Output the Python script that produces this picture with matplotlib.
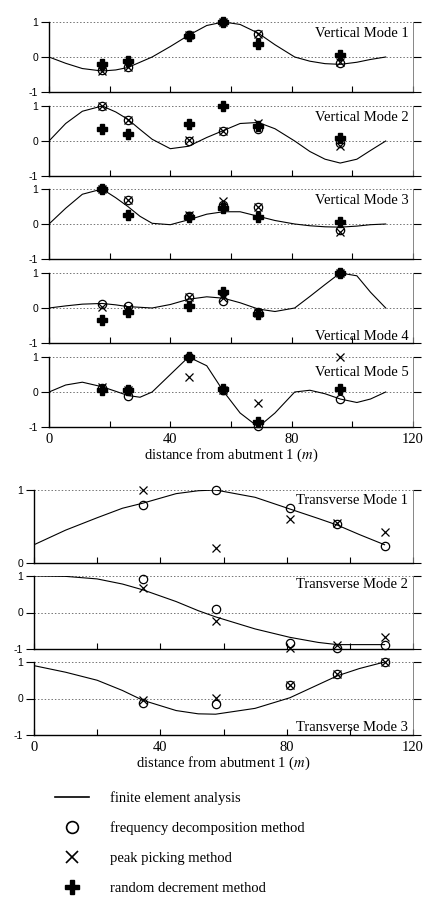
import matplotlib.pyplot as plt
from matplotlib.lines import Line2D

plt.rcParams['mathtext.fontset'] = 'stix'

# finite element node positions along the bridge (m)
fe_x_v = [0, 5.5, 11, 17.5, 22, 26, 30, 34, 40, 46, 52, 57.5, 63, 69, 74.5, 81, 86, 91, 96, 101.5, 106, 111]
fe_v1 = [0, -0.18, -0.33, -0.4, -0.37, -0.3, -0.15, 0.0, 0.3, 0.62, 0.9, 1.0, 0.93, 0.68, 0.35, 0.0, -0.12, -0.19, -0.21, -0.15, -0.07, 0.0]
fe_v2 = [0, 0.5, 0.85, 1.0, 0.83, 0.62, 0.33, 0.05, -0.22, -0.15, 0.1, 0.3, 0.5, 0.53, 0.35, 0.0, -0.3, -0.52, -0.63, -0.52, -0.27, 0.0]
fe_v3 = [0, 0.45, 0.85, 1.0, 0.75, 0.5, 0.22, 0.02, -0.02, 0.12, 0.28, 0.35, 0.35, 0.22, 0.1, 0.0, -0.05, -0.08, -0.09, -0.06, -0.02, 0.0]
fe_v4 = [0, 0.06, 0.11, 0.13, 0.09, 0.04, 0.02, 0.0, 0.1, 0.25, 0.32, 0.28, 0.15, -0.03, -0.1, 0.0, 0.33, 0.67, 1.0, 0.92, 0.45, 0.0]
fe_v5 = [0, 0.2, 0.28, 0.15, 0.02, -0.1, -0.15, 0.0, 0.5, 1.0, 0.75, 0.02, -0.6, -1.0, -0.6, 0.0, 0.05, -0.05, -0.2, -0.3, -0.2, 0.0]

# measured vertical mode shapes at the sensor locations
v_sensor_x = [17.5, 26, 46, 57.5, 69, 96]
v1_fdd = [-0.37, -0.28, 0.62, 1.0, 0.65, -0.17]
v1_pp = [-0.4, -0.28, 0.62, 1.0, 0.65, -0.13]
v1_rd = [-0.2, -0.1, 0.6, 1.0, 0.38, 0.05]
v2_fdd = [1.0, 0.6, 0.0, 0.3, 0.35, -0.05]
v2_pp = [1.0, 0.6, 0.02, 0.3, 0.52, -0.15]
v2_rd = [0.35, 0.2, 0.48, 1.0, 0.42, 0.08]
v3_fdd = [1.0, 0.68, 0.22, 0.55, 0.5, -0.18]
v3_pp = [1.0, 0.68, 0.25, 0.65, 0.5, -0.22]
v3_rd = [1.0, 0.25, 0.2, 0.45, 0.2, 0.05]
v4_fdd = [0.12, 0.05, 0.32, 0.2, -0.12, 1.0]
v4_pp = [0.02, 0.0, 0.32, 0.3, -0.15, 1.0]
v4_rd = [-0.33, -0.1, 0.05, 0.45, -0.18, 1.0]
v5_fdd = [0.12, -0.1, 1.0, 0.05, -0.97, -0.2]
v5_pp = [0.15, 0.05, 0.42, 0.05, -0.3, 1.0]
v5_rd = [0.05, 0.07, 1.0, 0.08, -0.85, 0.1]

# transverse modes
fe_x_t = [0, 10, 20, 28, 34.5, 45, 52, 57.5, 70, 81, 90, 96, 103, 111]
fe_t1 = [0.25, 0.45, 0.62, 0.75, 0.82, 0.95, 0.99, 1.0, 0.9, 0.74, 0.61, 0.52, 0.39, 0.25]
fe_t2 = [1.0, 0.99, 0.92, 0.78, 0.62, 0.3, 0.05, -0.12, -0.45, -0.68, -0.82, -0.88, -0.88, -0.88]
fe_t3 = [0.9, 0.72, 0.5, 0.22, -0.05, -0.33, -0.42, -0.43, -0.27, 0.02, 0.38, 0.62, 0.82, 1.0]

t_sensor_x = [34.5, 57.5, 81, 96, 111]
t1_fdd = [0.8, 1.0, 0.76, 0.53, 0.23]
t1_pp = [1.0, 0.2, 0.6, 0.55, 0.42]
t2_fdd = [0.92, 0.1, -0.83, -0.98, -0.88]
t2_pp = [0.68, -0.24, -0.97, -0.88, -0.68]
t3_fdd = [-0.12, -0.14, 0.38, 0.68, 1.0]
t3_pp = [-0.05, 0.02, 0.38, 0.68, 1.0]

SERIF = 'Liberation Serif'
SANS = 'Liberation Sans'
W, H = 426, 900


def px_axes(fig, left, top, right, bottom):
    return fig.add_axes([left / W, 1 - bottom / H, (right - left) / W, (bottom - top) / H])


def style_axes(ax, ymin, show_xlabels):
    ax.set_xlim(0, 120)
    ax.set_ylim(ymin, 1)
    yt = [-1, 0, 1] if ymin < 0 else [0, 1]
    ax.set_yticks(yt)
    ax.set_yticklabels([str(v) for v in yt], fontfamily=SANS, fontsize=7.5)
    ax.set_xticks([0, 40, 80, 120])
    ax.set_xticks([20, 60, 100], minor=True)
    ax.tick_params(axis='x', which='both', direction='in', length=4, width=0.8, pad=4)
    ax.tick_params(axis='y', direction='out', length=6, width=0.8, pad=2, right=True)
    if show_xlabels:
        ax.set_xticklabels(['0', '40', '80', '120'], fontfamily=SERIF, fontsize=10.5)
    else:
        ax.set_xticklabels([])
    ax.spines['top'].set_visible(False)
    ax.spines['right'].set_color('0.45')
    ax.spines['right'].set_linewidth(0.6)
    ax.spines['left'].set_linewidth(1.0)
    ax.spines['bottom'].set_linewidth(1.0)
    ax.grid(axis='y', color='0.45', linestyle=(0, (1.5, 2)), linewidth=0.7)
    ax.set_axisbelow(True)


def plot_points(ax, x, fdd, pp, rd=None):
    ax.plot(x, fdd, 'o', mfc='none', mec='k', mew=0.9, ms=6, clip_on=False)
    ax.plot(x, pp, 'x', color='k', mew=0.9, ms=6, clip_on=False)
    if rd is not None:
        ax.plot(x, rd, 'P', color='k', ms=6.5, clip_on=False)


fig = plt.figure(figsize=(W / 100, H / 100), dpi=100)

vert = [
    (fe_v1, v1_fdd, v1_pp, v1_rd, 'Vertical Mode 1', 0.68),
    (fe_v2, v2_fdd, v2_pp, v2_rd, 'Vertical Mode 2', 0.66),
    (fe_v3, v3_fdd, v3_pp, v3_rd, 'Vertical Mode 3', 0.68),
    (fe_v4, v4_fdd, v4_pp, v4_rd, 'Vertical Mode 4', -0.8),
    (fe_v5, v5_fdd, v5_pp, v5_rd, 'Vertical Mode 5', 0.55),
]
v_tops = [22, 106, 189, 273, 357]
for i, (fe, fdd, pp, rd, name, ty) in enumerate(vert):
    ax = px_axes(fig, 49, v_tops[i], 413, v_tops[i] + 70)
    style_axes(ax, -1, i == len(vert) - 1)
    ax.plot(fe_x_v, fe, color='k', lw=0.8)
    plot_points(ax, v_sensor_x, fdd, pp, rd)
    ax.text(118.5, ty, name, ha='right', va='center', fontfamily=SERIF, fontsize=10.5)
    if i == len(vert) - 1:
        ax.set_xlabel('distance from abutment 1 ($m$)', fontfamily=SERIF, fontsize=10.5, labelpad=1)

trans = [
    (fe_t1, t1_fdd, t1_pp, 'Transverse Mode 1', 0, 0.86),
    (fe_t2, t2_fdd, t2_pp, 'Transverse Mode 2', -1, 0.76),
    (fe_t3, t3_fdd, t3_pp, 'Transverse Mode 3', -1, -0.8),
]
t_tops = [490, 576, 662]
for i, (fe, fdd, pp, name, ymin, ty) in enumerate(trans):
    ax = px_axes(fig, 34, t_tops[i], 413, t_tops[i] + 73)
    style_axes(ax, ymin, i == len(trans) - 1)
    ax.plot(fe_x_t, fe, color='k', lw=0.8)
    plot_points(ax, t_sensor_x, fdd, pp)
    ax.text(118.5, ty, name, ha='right', va='center', fontfamily=SERIF, fontsize=10.5)
    if i == len(trans) - 1:
        ax.set_xlabel('distance from abutment 1 ($m$)', fontfamily=SERIF, fontsize=10.5, labelpad=1)

handles = [
    Line2D([], [], color='k', lw=1.2),
    Line2D([], [], ls='none', marker='o', mfc='none', mec='k', mew=1.2, ms=8.5),
    Line2D([], [], ls='none', marker='x', color='k', mew=1.2, ms=9),
    Line2D([], [], ls='none', marker='P', color='k', ms=10),
]
labels = ['finite element analysis', 'frequency decomposition method',
          'peak picking method', 'random decrement method']
fig.legend(handles, labels, loc='upper left', bbox_to_anchor=(55 / W, 1 - 791 / H),
           frameon=False, prop={'family': SERIF, 'size': 10.5}, handlelength=2.3,
           handletextpad=1.5, labelspacing=1.15, borderpad=0, borderaxespad=0)

plt.savefig('out.png', dpi=100)
